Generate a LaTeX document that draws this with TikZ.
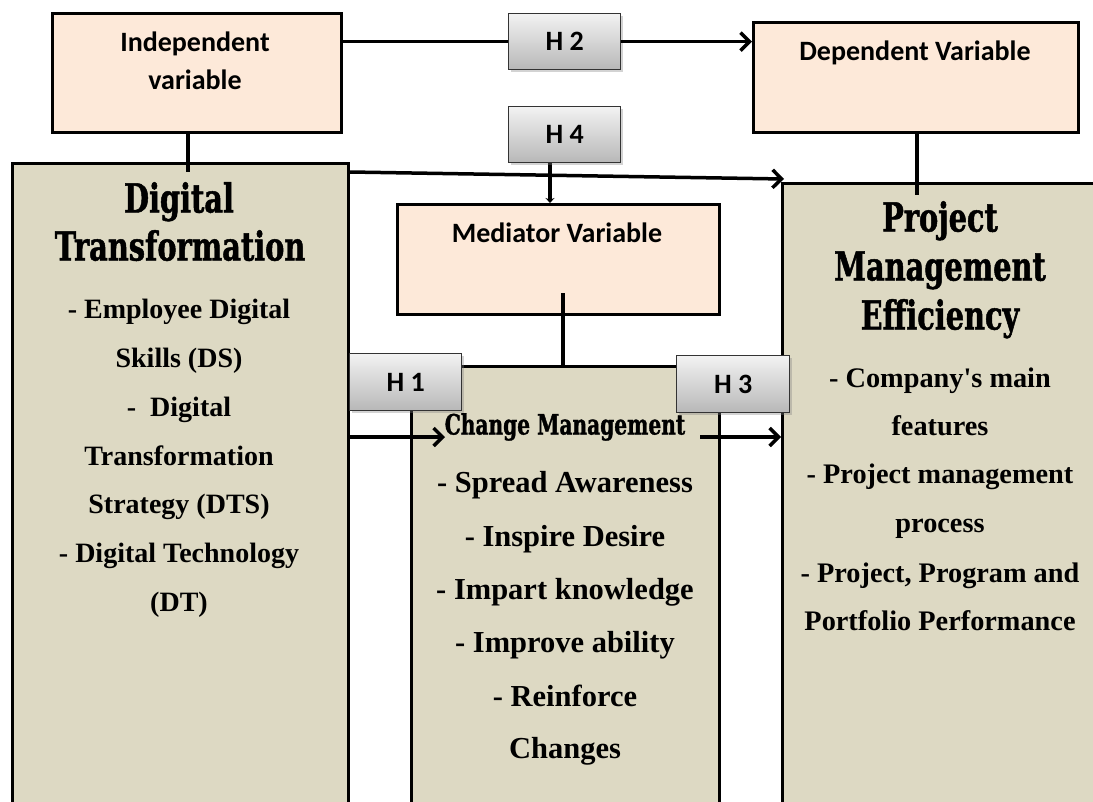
\documentclass[tikz,border=0pt]{standalone}
\usepackage{fontspec}
\setmainfont{Liberation Serif}
\newfontfamily\headfont[FakeStretch=0.72, BoldFeatures={FakeBold=1.2}]{DejaVu Serif}
\newfontfamily\labelfont{Carlito}
\usetikzlibrary{arrows.meta,shadows,calc}
\definecolor{peach}{HTML}{FDE9D9}
\definecolor{tanfill}{HTML}{DDD9C3}
\tikzset{
  varbox/.style={draw, line width=2.8pt, fill=peach, inner sep=0pt, anchor=north west},
  bigbox/.style={draw, line width=2.8pt, fill=tanfill, inner sep=0pt, anchor=north west},
  hbox/.style={draw=black!80, line width=1.2pt, top color=black!5, bottom color=black!28,
     drop shadow={shadow xshift=2pt, shadow yshift=-2pt, opacity=0.35},
     inner sep=0pt, anchor=north west, font=\labelfont\bfseries\fontsize{28}{28}\selectfont},
  conn/.style={line width=3.5pt},
  arr/.style={line width=3.5pt, -{Straight Barb[length=9pt,width=18pt]}},
  ln/.style={inner sep=0pt, text height=0.72em, text depth=0.22em},
  lab/.style={ln, yshift=-6pt, font=\labelfont\bfseries\fontsize{28}{28}\selectfont},
  head/.style={ln, yshift=-11pt, font=\headfont\bfseries\fontsize{40}{40}\selectfont},
  chead/.style={ln, yshift=-8pt, font=\headfont\bfseries\fontsize{28}{28}\selectfont},
  itemdt/.style={ln, yshift=-7pt, font=\bfseries\fontsize{28}{28}\selectfont},
  itemcm/.style={ln, yshift=-7pt, font=\bfseries\fontsize{30.5}{30.5}\selectfont},
  itempm/.style={ln, yshift=-7pt, font=\bfseries\fontsize{28.3}{28.3}\selectfont},
}
\begin{document}
\begin{tikzpicture}[x=1pt,y=-1pt]
\useasboundingbox (0,0) rectangle (1093,801);
\clip (0,0) rectangle (1093,801);
% big boxes
\node[bigbox, minimum width=336pt, minimum height=660pt] (dt) at (11,162) {};
\node[bigbox, minimum width=340pt, minimum height=640pt] (pm) at (781,182) {};
\node[bigbox, minimum width=308pt, minimum height=455pt] (cm) at (410,365) {};
% variable boxes
\node[varbox, minimum width=289pt, minimum height=119pt] (ind) at (51,12) {};
\node[varbox, minimum width=325pt, minimum height=110pt] (dep) at (752,21) {};
\node[varbox, minimum width=322pt, minimum height=110pt] (med) at (396,203) {};
% texts
\node[lab] (indt1) at (195,43) {Independent};
\node[lab] (indt2) at (195,81) {variable};
\node[lab] (dept) at (915,52) {Dependent Variable};
\node[lab] (medt) at (557,234) {Mediator Variable};
\node[head] (dth1) at (179,199) {Digital};
\node[head] (dth2) at (180,247) {Transformation};
\node[itemdt] (dti1) at (179,309) {- Employee Digital};
\node[itemdt] (dti2) at (179,358) {Skills (DS)};
\node[itemdt] (dti3) at (179,407) {-\ \ Digital};
\node[itemdt] (dti4) at (179,456) {Transformation};
\node[itemdt] (dti5) at (179,504) {Strategy (DTS)};
\node[itemdt] (dti6) at (179,553) {- Digital Technology};
\node[itemdt] (dti7) at (179,602) {(DT)};
\node[head] (pmh1) at (940,218) {Project};
\node[head] (pmh2) at (940,267) {Management};
\node[head] (pmh3) at (940,316) {Efficiency};
\node[itempm] (pmi1) at (940,378) {- Company\textquotesingle s main};
\node[itempm] (pmi2) at (940,426) {features};
\node[itempm] (pmi3) at (940,474) {- Project management};
\node[itempm] (pmi4) at (940,523) {process};
\node[itempm] (pmi5) at (940,573) {- Project, Program and};
\node[itempm] (pmi6) at (940,621) {Portfolio Performance};
\node[chead] (cmh) at (565,424) {Change Management};
\node[itemcm] (cmi1) at (565,483) {- Spread Awareness};
\node[itemcm] (cmi2) at (565,537) {- Inspire Desire};
\node[itemcm] (cmi3) at (565,590) {- Impart knowledge};
\node[itemcm] (cmi4) at (565,643) {- Improve ability};
\node[itemcm] (cmi5) at (565,697) {- Reinforce};
\node[itemcm] (cmi6) at (565,749) {Changes};
% free ends
\coordinate (a1) at (445,437);
\coordinate (a3) at (700,437);
\coordinate (h4foot) at (550,162);
\coordinate (medtop) at (563,293);
% connectors
\draw[conn] (ind.south -| 188,0) -- (188,172);
\draw[conn] (dep.south -| 917,0) -- (917,195);
\draw[arr] ($(dt.north east)+(0,10)$) -- ($(pm.north west)+(3,-3)$);
\draw[conn, -{Stealth[length=5pt,width=9pt]}] (h4foot) -- (h4foot |- med.north);
\draw[conn] (medtop) -- (medtop |- cm.north);
\draw[arr] (a1 -| dt.east) -- (a1);
\draw[arr] (a3) -- (a3 -| pm.west);
\node[hbox, minimum width=112pt, minimum height=56pt] (h2) at (508,13) {H 2};
\node[hbox, minimum width=112pt, minimum height=56pt] (h4) at (508,106) {H 4};
\node[hbox, minimum width=112pt, minimum height=57pt] (h1) at (349,353) {H 1};
\node[hbox, minimum width=113pt, minimum height=57pt] (h3) at (676,355) {H 3};
\draw[conn] (h2.west -| ind.east) -- (h2.west);
\draw[arr] (h2.east) -- (h2.east -| dep.west);
\end{tikzpicture}
\end{document}
